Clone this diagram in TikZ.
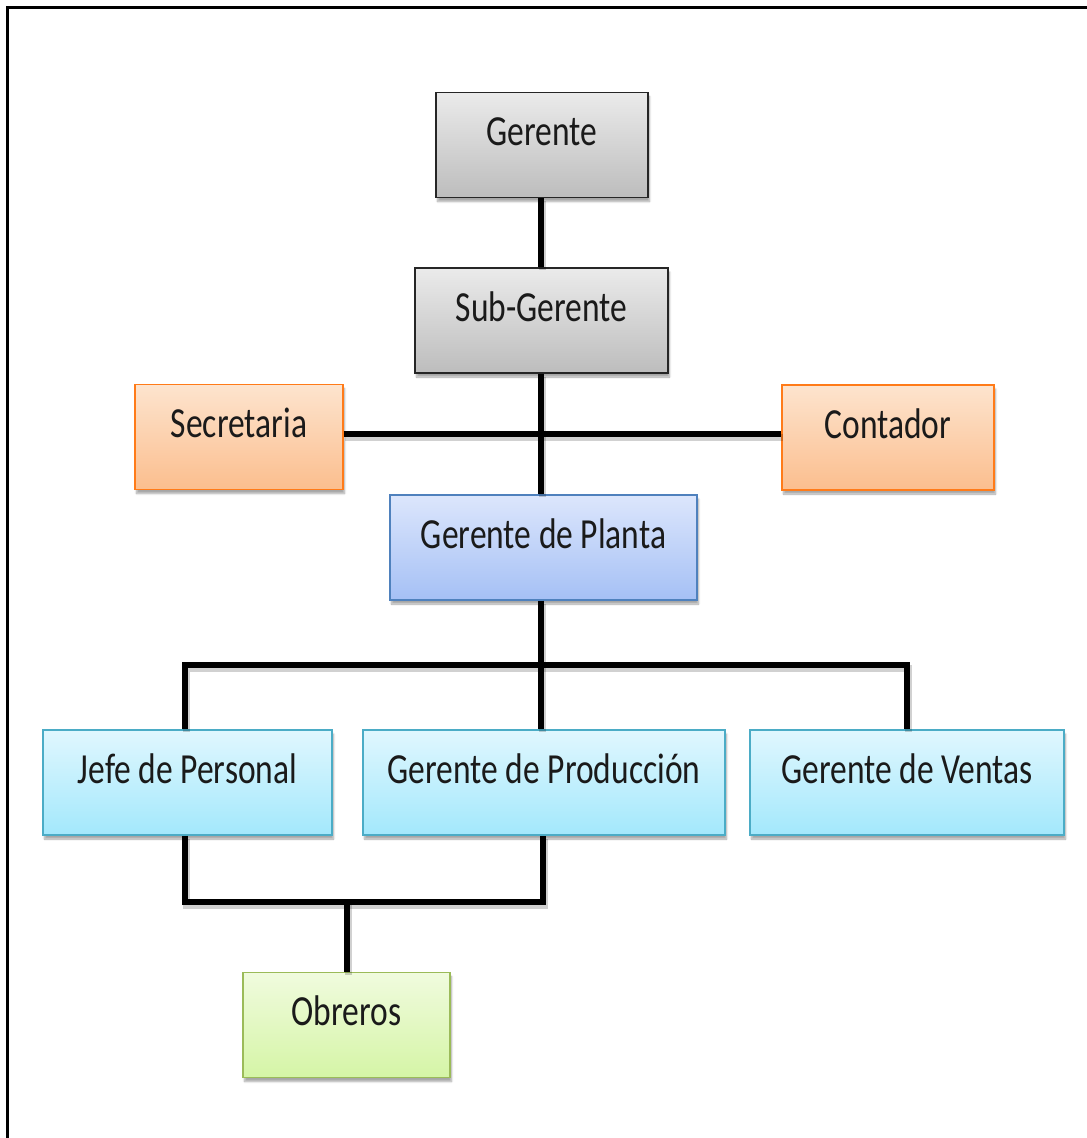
\documentclass[tikz,border=0pt]{standalone}
\usepackage{fontspec}
\setmainfont{Carlito}
\usetikzlibrary{shadows.blur}
\definecolor{txtc}{HTML}{1A1A1A}
\tikzset{
  box/.style={rectangle, inner xsep=0pt, inner ysep=0pt, line width=1.3pt,
    text height=53pt, text depth=52pt, text=txtc,
    font=\fontsize{33.5pt}{40pt}\selectfont,
    blur shadow={shadow blur steps=6, shadow xshift=1.5pt, shadow yshift=-4pt, shadow opacity=35}},
  graybox/.style={box, draw=black!85, top color=black!8, bottom color=black!26},
  orangebox/.style={box, draw=orange!85!red!90!white, top color={rgb,255:red,253;green,228;blue,206}, bottom color={rgb,255:red,251;green,190;blue,142}},
  bluebox/.style={box, draw={rgb,255:red,79;green,129;blue,189}, top color={rgb,255:red,220;green,230;blue,252}, bottom color={rgb,255:red,165;green,192;blue,245}},
  cyanbox/.style={box, draw={rgb,255:red,75;green,172;blue,198}, top color={rgb,255:red,224;green,247;blue,254}, bottom color={rgb,255:red,163;green,232;blue,252}},
  greenbox/.style={box, draw={rgb,255:red,155;green,187;blue,89}, top color={rgb,255:red,240;green,251;blue,222}, bottom color={rgb,255:red,213;green,245;blue,166}},
  conn/.style={line width=6pt, black, line join=miter,
    preaction={draw=black, draw opacity=0.18, line width=7pt, transform canvas={shift={(1.5pt,-3pt)}}}},
}
\newcommand{\tx}[1]{\scalebox{1}[1.28]{#1}}
\begin{document}
\begin{tikzpicture}[x=1pt,y=-1pt]
\useasboundingbox (0,0) rectangle (1087,1138);
\draw[line width=3pt, black] (7,7) rectangle (1140,1180);

\node[graybox, minimum width=212pt] (G) at (542,145) {\tx{Gerente}};
\node[graybox, minimum width=253pt] (SG) at (541.5,320.5) {\tx{Sub-Gerente}};
\node[orangebox, minimum width=208pt] (Sec) at (239,437) {\tx{Secretaria}};
\node[orangebox, minimum width=212pt] (Con) at (888,437.5) {\tx{Contador}};
\node[bluebox, minimum width=307pt] (GP) at (543.5,547.5) {\tx{Gerente de Planta}};
\node[cyanbox, minimum width=289pt] (JP) at (187.5,782.5) {\tx{Jefe de Personal}};
\node[cyanbox, minimum width=362pt] (GPr) at (544,782.5) {\tx{Gerente de Producción}};
\node[cyanbox, minimum width=314pt] (GV) at (907,782.5) {\tx{Gerente de Ventas}};
\node[greenbox, minimum width=207pt] (Ob) at (346.5,1025) {\tx{Obreros}};

\coordinate (trunk) at (541,0);
\coordinate (busL) at (185,665);
\coordinate (busR) at (907,665);
\coordinate (botL) at (185,902);
\coordinate (botR) at (543,902);
\coordinate (obx) at (347,902);

\draw[conn] (trunk |- G.south) -- (trunk |- SG.north);
\draw[conn] (Sec.east |- 0,434) -- (Con.west |- 0,434);
\draw[conn] (trunk |- SG.south) -- (trunk |- GP.north);
\draw[conn] (busL |- JP.north) -- (busL) -- (busR) -- (busR |- GV.north);
\draw[conn] (trunk |- GP.south) -- (trunk |- GPr.north);
\draw[conn] (botL |- JP.south) -- (botL) -- (botR) -- (botR |- GPr.south);
\draw[conn] (obx) -- (obx |- Ob.north);
\end{tikzpicture}
\end{document}
